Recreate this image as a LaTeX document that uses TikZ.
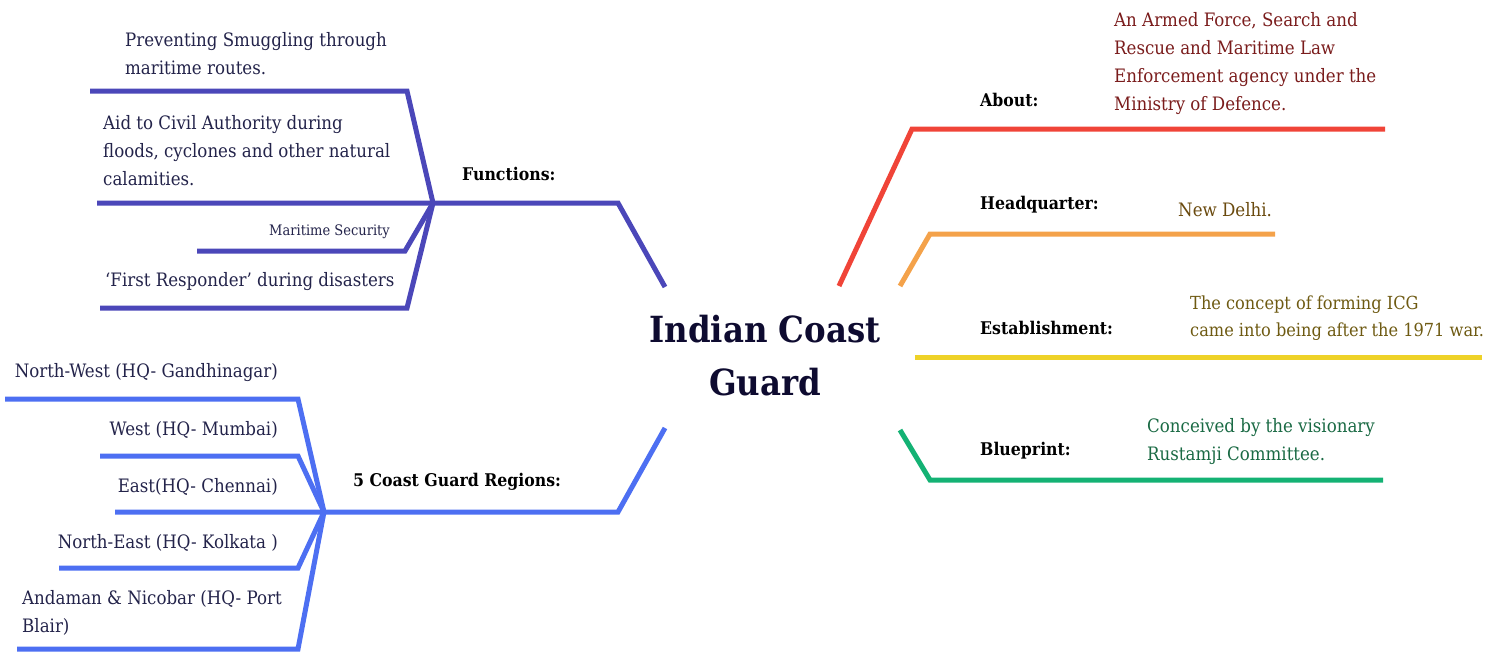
\documentclass[tikz,border=0pt]{standalone}
\usepackage{fontspec}
\setmainfont{DejaVu Serif Condensed}
\usetikzlibrary{calc}

\definecolor{fnblue}{HTML}{4B47B9}
\definecolor{rgblue}{HTML}{4D6FF2}
\definecolor{abred}{HTML}{F04438}
\definecolor{hqorange}{HTML}{F4A24A}
\definecolor{esyellow}{HTML}{EED228}
\definecolor{bpgreen}{HTML}{14B274}
\definecolor{titlenavy}{HTML}{0E0B30}
\definecolor{txtnavy}{HTML}{23234A}
\definecolor{txtred}{HTML}{7A1C1C}
\definecolor{txtbrown}{HTML}{6A4A0E}
\definecolor{txtolive}{HTML}{6E5A12}
\definecolor{txtgreen}{HTML}{1A6A44}

\tikzset{
  branch/.style={line width=5pt, line join=miter},
  item/.style={font=\fontsize{18.5}{28}\selectfont, align=left, inner sep=0pt, text=txtnavy},
  head/.style={font=\bfseries\fontsize{17.5}{20}\selectfont, inner sep=0pt, anchor=west, text=black},
}

\begin{document}
\begin{tikzpicture}[x=1pt,y=-1pt]
\useasboundingbox (0,0) rectangle (1491,651);

\node (title) at (765,356) [font=\bfseries\fontsize{36}{53}\selectfont, align=center, text=titlenavy] {Indian Coast\\Guard};

% functions
\coordinate (fnroot) at (665,287); \coordinate (fnbend) at (618,203);
\coordinate (fnhub) at (433,203);
\coordinate (fa) at (407,91); \coordinate (fa0) at (90,91);
\coordinate (fb0) at (97,203);
\coordinate (fc) at (405,251); \coordinate (fc0) at (197,251);
\coordinate (fd) at (407,308); \coordinate (fd0) at (100,308);
\draw[branch, fnblue] (fnroot) -- (fnbend) -- (fnhub) -- (fb0);
\draw[branch, fnblue] (fnhub) -- (fa) -- (fa0);
\draw[branch, fnblue] (fnhub) -- (fc) -- (fc0);
\draw[branch, fnblue] (fnhub) -- (fd) -- (fd0);
\node (fnhead) at (462,174) [head] {Functions:};
\node (fna) at (125,54) [item, anchor=west] {Preventing Smuggling through\\maritime routes.};
\node (fnb) at (103,151) [item, anchor=west] {Aid to Civil Authority during\\floods, cyclones and other natural\\calamities.};
\node (fnc) at (390,232) [item, anchor=east, font=\fontsize{14.5}{16}\selectfont] {Maritime Security};
\node (fnd) at (105,282) [item, anchor=west] {‘First Responder’ during disasters};

% regions
\coordinate (rgroot) at (665,428); \coordinate (rgbend) at (618,512);
\coordinate (rghub) at (324,512);
\coordinate (ra) at (298,399); \coordinate (ra0) at (5,399);
\coordinate (rb) at (298,456); \coordinate (rb0) at (100,456);
\coordinate (rc0) at (115,512);
\coordinate (rd) at (298,568); \coordinate (rd0) at (59,568);
\coordinate (re) at (298,649); \coordinate (re0) at (17,649);
\draw[branch, rgblue] (rgroot) -- (rgbend) -- (rghub) -- (rc0);
\draw[branch, rgblue] (rghub) -- (ra) -- (ra0);
\draw[branch, rgblue] (rghub) -- (rb) -- (rb0);
\draw[branch, rgblue] (rghub) -- (rd) -- (rd0);
\draw[branch, rgblue] (rghub) -- (re) -- (re0);
\node (rghead) at (353,482) [head] {5 Coast Guard Regions:};
\node (rga) at (278,373) [item, anchor=east] {North-West (HQ- Gandhinagar)};
\node (rgb) at (278,430) [item, anchor=east] {West (HQ- Mumbai)};
\node (rgc) at (278,487) [item, anchor=east] {East(HQ- Chennai)};
\node (rgd) at (278,543) [item, anchor=east] {North-East (HQ- Kolkata )};
\node (rge) at (22,613) [item, anchor=west] {Andaman \& Nicobar (HQ- Port\\Blair)};

% right side
\coordinate (abroot) at (839,286); \coordinate (abbend) at (912,129); \coordinate (abend) at (1385,129);
\draw[branch, abred] (abroot) -- (abbend) -- (abend);
\node (abhead) at (980,100) [head] {About:};
\node (abtext) at (1114,64) [item, anchor=west, text=txtred] {An Armed Force, Search and\\Rescue and Maritime Law\\Enforcement agency under the\\Ministry of Defence.};

\coordinate (hqroot) at (900,286); \coordinate (hqbend) at (930,234); \coordinate (hqend) at (1275,234);
\draw[branch, hqorange] (hqroot) -- (hqbend) -- (hqend);
\node (hqhead) at (980,205) [head] {Headquarter:};
\node (hqtext) at (1178,210) [item, anchor=west, text=txtbrown] {New Delhi.};

\coordinate (esroot) at (915,357); \coordinate (esend) at (1482,357);
\draw[branch, esyellow] (esroot) -- (esend);
\node (eshead) at (980,328) [head] {Establishment:};
\node (estext) at (1190,318) [item, anchor=west, text=txtolive, font=\fontsize{18}{27}\selectfont] {The concept of forming ICG\\came into being after the 1971 war.};

\coordinate (bproot) at (900,430); \coordinate (bpbend) at (930,480); \coordinate (bpend) at (1383,480);
\draw[branch, bpgreen] (bproot) -- (bpbend) -- (bpend);
\node (bphead) at (980,451) [head] {Blueprint:};
\node (bptext) at (1147,442) [item, anchor=west, text=txtgreen] {Conceived by the visionary\\Rustamji Committee.};

\end{tikzpicture}
\end{document}
